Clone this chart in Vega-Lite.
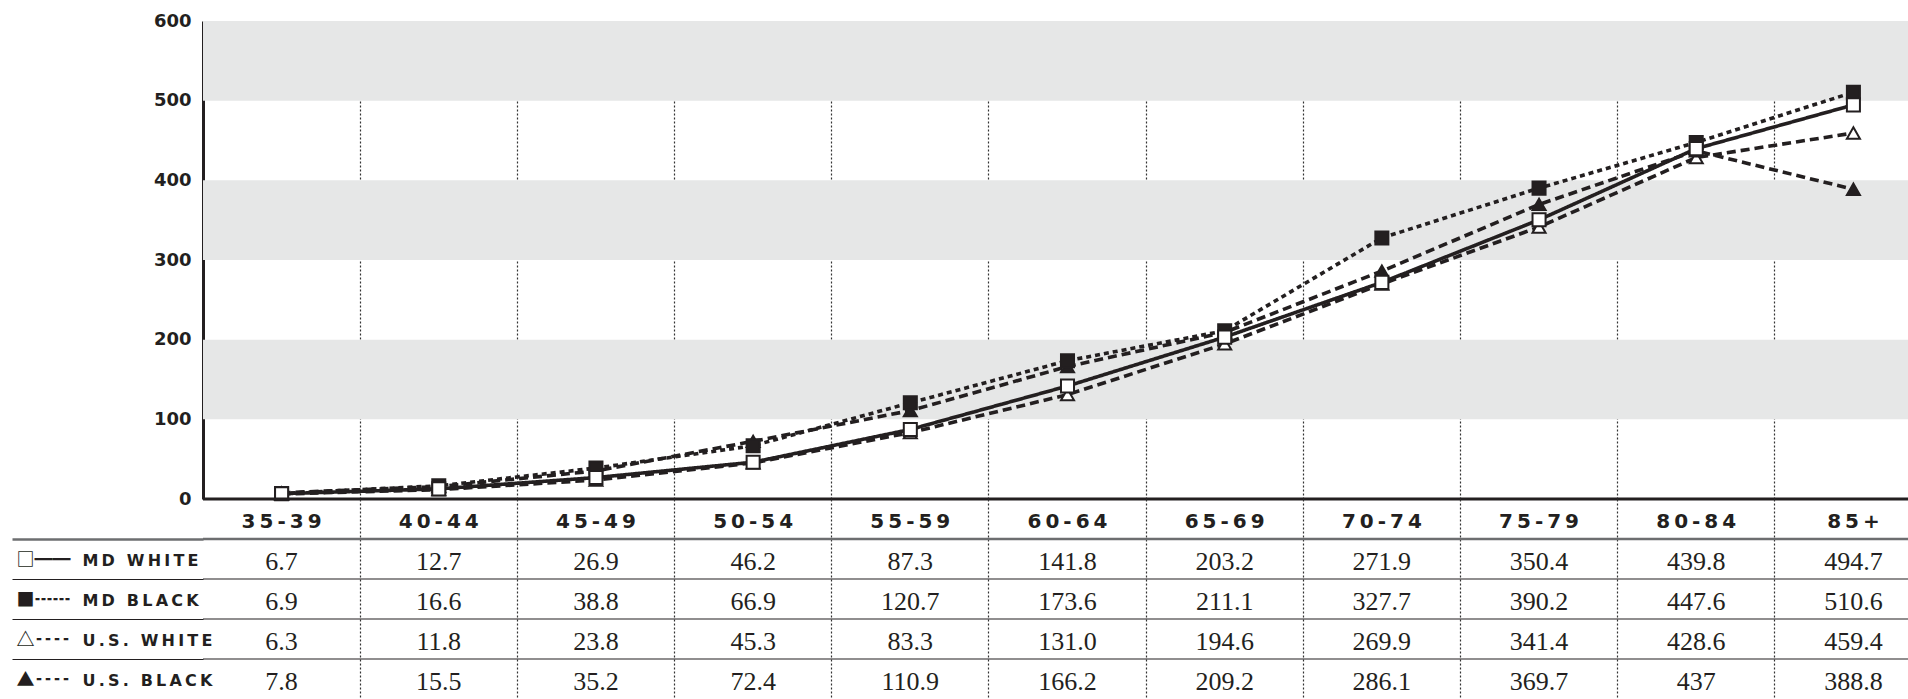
{
  "$schema": "https://vega.github.io/schema/vega-lite/v6.json",
  "background": "white",
  "padding": {"left": 10, "top": 12, "right": 0, "bottom": 0},
  "spacing": 0,
  "bounds": "flush",
  "datasets": {
    "rates": [
      {"age": "35-39", "series": "U.S. WHITE", "value": 6.3, "txt": "6.3"},
      {"age": "40-44", "series": "U.S. WHITE", "value": 11.8, "txt": "11.8"},
      {"age": "45-49", "series": "U.S. WHITE", "value": 23.8, "txt": "23.8"},
      {"age": "50-54", "series": "U.S. WHITE", "value": 45.3, "txt": "45.3"},
      {"age": "55-59", "series": "U.S. WHITE", "value": 83.3, "txt": "83.3"},
      {"age": "60-64", "series": "U.S. WHITE", "value": 131.0, "txt": "131.0"},
      {"age": "65-69", "series": "U.S. WHITE", "value": 194.6, "txt": "194.6"},
      {"age": "70-74", "series": "U.S. WHITE", "value": 269.9, "txt": "269.9"},
      {"age": "75-79", "series": "U.S. WHITE", "value": 341.4, "txt": "341.4"},
      {"age": "80-84", "series": "U.S. WHITE", "value": 428.6, "txt": "428.6"},
      {"age": "85+", "series": "U.S. WHITE", "value": 459.4, "txt": "459.4"},
      {"age": "35-39", "series": "U.S. BLACK", "value": 7.8, "txt": "7.8"},
      {"age": "40-44", "series": "U.S. BLACK", "value": 15.5, "txt": "15.5"},
      {"age": "45-49", "series": "U.S. BLACK", "value": 35.2, "txt": "35.2"},
      {"age": "50-54", "series": "U.S. BLACK", "value": 72.4, "txt": "72.4"},
      {"age": "55-59", "series": "U.S. BLACK", "value": 110.9, "txt": "110.9"},
      {"age": "60-64", "series": "U.S. BLACK", "value": 166.2, "txt": "166.2"},
      {"age": "65-69", "series": "U.S. BLACK", "value": 209.2, "txt": "209.2"},
      {"age": "70-74", "series": "U.S. BLACK", "value": 286.1, "txt": "286.1"},
      {"age": "75-79", "series": "U.S. BLACK", "value": 369.7, "txt": "369.7"},
      {"age": "80-84", "series": "U.S. BLACK", "value": 437, "txt": "437"},
      {"age": "85+", "series": "U.S. BLACK", "value": 388.8, "txt": "388.8"},
      {"age": "35-39", "series": "MD BLACK", "value": 6.9, "txt": "6.9"},
      {"age": "40-44", "series": "MD BLACK", "value": 16.6, "txt": "16.6"},
      {"age": "45-49", "series": "MD BLACK", "value": 38.8, "txt": "38.8"},
      {"age": "50-54", "series": "MD BLACK", "value": 66.9, "txt": "66.9"},
      {"age": "55-59", "series": "MD BLACK", "value": 120.7, "txt": "120.7"},
      {"age": "60-64", "series": "MD BLACK", "value": 173.6, "txt": "173.6"},
      {"age": "65-69", "series": "MD BLACK", "value": 211.1, "txt": "211.1"},
      {"age": "70-74", "series": "MD BLACK", "value": 327.7, "txt": "327.7"},
      {"age": "75-79", "series": "MD BLACK", "value": 390.2, "txt": "390.2"},
      {"age": "80-84", "series": "MD BLACK", "value": 447.6, "txt": "447.6"},
      {"age": "85+", "series": "MD BLACK", "value": 510.6, "txt": "510.6"},
      {"age": "35-39", "series": "MD WHITE", "value": 6.7, "txt": "6.7"},
      {"age": "40-44", "series": "MD WHITE", "value": 12.7, "txt": "12.7"},
      {"age": "45-49", "series": "MD WHITE", "value": 26.9, "txt": "26.9"},
      {"age": "50-54", "series": "MD WHITE", "value": 46.2, "txt": "46.2"},
      {"age": "55-59", "series": "MD WHITE", "value": 87.3, "txt": "87.3"},
      {"age": "60-64", "series": "MD WHITE", "value": 141.8, "txt": "141.8"},
      {"age": "65-69", "series": "MD WHITE", "value": 203.2, "txt": "203.2"},
      {"age": "70-74", "series": "MD WHITE", "value": 271.9, "txt": "271.9"},
      {"age": "75-79", "series": "MD WHITE", "value": 350.4, "txt": "350.4"},
      {"age": "80-84", "series": "MD WHITE", "value": 439.8, "txt": "439.8"},
      {"age": "85+", "series": "MD WHITE", "value": 494.7, "txt": "494.7"}
    ],
    "bands": [{"lo": 100, "hi": 200}, {"lo": 300, "hi": 400}, {"lo": 500, "hi": 600}],
    "zero": [{"v": 0}],
    "rows": [{"series": "MD WHITE"}, {"series": "MD BLACK"}, {"series": "U.S. WHITE"}, {"series": "U.S. BLACK"}]
  },
  "vconcat": [
    {
      "width": 1707,
      "height": 478,
      "layer": [
        {
          "data": {"name": "bands"},
          "mark": {"type": "rect", "color": "#e6e7e7"},
          "encoding": {
            "y": {"field": "lo", "type": "quantitative", "scale": {"domain": [0, 600], "nice": false}, "axis": {"title": null}},
            "y2": {"field": "hi"}
          }
        },
        {
          "data": {"name": "rates"},
          "mark": {"type": "line", "strokeWidth": 3.6, "color": "#231f20"},
          "encoding": {
            "x": {
              "field": "age", "type": "ordinal", "bandPosition": 0.5,
              "scale": {"type": "band", "domain": ["35-39", "40-44", "45-49", "50-54", "55-59", "60-64", "65-69", "70-74", "75-79", "80-84", "85+"], "range": [0, 1729], "paddingInner": 0, "paddingOuter": 0},
              "axis": {"title": null, "orient": "bottom", "domain": false, "labels": false, "ticks": false, "bandPosition": 0, "grid": true, "gridDash": [2, 2], "gridWidth": 1.2,
                "gridColor": {"condition": {"test": "datum.value === '35-39'", "value": "transparent"}, "value": "#333333"}}
            },
            "y": {"field": "value", "type": "quantitative", "scale": {"domain": [0, 600], "nice": false}, "axis": {"title": null}},
            "strokeDash": {"field": "series", "type": "nominal", "legend": null,
              "scale": {"domain": ["MD WHITE", "MD BLACK", "U.S. WHITE", "U.S. BLACK"], "range": [[1, 0], [5, 4], [9, 5], [9, 5]]}},
            "detail": {"field": "series"}
          }
        },
        {
          "data": {"name": "rates"},
          "mark": {"type": "point", "filled": true, "size": 170, "stroke": "#231f20", "strokeWidth": 2, "opacity": 1},
          "encoding": {
            "x": {
              "field": "age", "type": "ordinal", "bandPosition": 0.5,
              "scale": {"type": "band", "domain": ["35-39", "40-44", "45-49", "50-54", "55-59", "60-64", "65-69", "70-74", "75-79", "80-84", "85+"], "range": [0, 1729], "paddingInner": 0, "paddingOuter": 0},
              "axis": {"title": null, "orient": "bottom", "domain": false, "labels": false, "ticks": false, "bandPosition": 0, "grid": true, "gridDash": [2, 2], "gridWidth": 1.2,
                "gridColor": {"condition": {"test": "datum.value === '35-39'", "value": "transparent"}, "value": "#333333"}}
            },
            "y": {"field": "value", "type": "quantitative", "scale": {"domain": [0, 600], "nice": false}, "axis": {"title": null}},
            "shape": {"field": "series", "type": "nominal", "legend": null,
              "scale": {"domain": ["MD WHITE", "MD BLACK", "U.S. WHITE", "U.S. BLACK"], "range": ["square", "square", "triangle-up", "triangle-up"]}},
            "fill": {"field": "series", "type": "nominal", "legend": null,
              "scale": {"domain": ["MD WHITE", "MD BLACK", "U.S. WHITE", "U.S. BLACK"], "range": ["#ffffff", "#231f20", "#ffffff", "#231f20"]}}
          }
        },
        {
          "data": {"name": "zero"},
          "mark": {"type": "rule", "color": "#231f20", "strokeWidth": 3},
          "encoding": {
            "y": {"field": "v", "type": "quantitative", "scale": {"domain": [0, 600], "nice": false}, "axis": {"title": null}}
          }
        }
      ]
    },
    {
      "width": 1707,
      "height": 200,
      "resolve": {"scale": {"y": "independent"}, "axis": {"y": "independent"}},
      "layer": [
        {
          "data": {"name": "rows"},
          "mark": {"type": "rule"},
          "encoding": {
            "y": {
              "field": "series", "type": "nominal", "bandPosition": 0,
              "scale": {"type": "band", "domain": ["HDR", "MD WHITE", "MD BLACK", "U.S. WHITE", "U.S. BLACK"], "paddingInner": 0, "paddingOuter": 0},
              "axis": {"title": null, "orient": "left", "domain": false, "bandPosition": 0, "grid": false,
                "ticks": false, "tickSize": 0,
                "labelAlign": "left", "labelPadding": 187, "labelOffset": 2, "labelFont": "Noto Sans CJK JP", "labelFontWeight": "bold", "labelFontSize": 18, "labelColor": "#231f20",
                "labelExpr": "datum.value === 'HDR' ? '' : datum.value === 'MD WHITE' ? '□━━' : datum.value === 'MD BLACK' ? '■┅┅' : datum.value === 'U.S. WHITE' ? '△╍╍' : '▲╍╍'"}
            },
            "stroke": {"condition": {"test": "datum.series === 'MD WHITE'", "value": "#6d6e70"}, "value": "#231f20"},
            "strokeWidth": {"condition": {"test": "datum.series === 'MD WHITE'", "value": 2.5}, "value": 1.2}
          }
        },
        {
          "data": {"name": "rates"},
          "mark": {"type": "text", "font": "Liberation Serif", "fontSize": 26, "color": "#231f20", "dy": 3},
          "encoding": {
            "x": {
              "field": "age", "type": "ordinal", "bandPosition": 0.5,
              "scale": {"type": "band", "domain": ["35-39", "40-44", "45-49", "50-54", "55-59", "60-64", "65-69", "70-74", "75-79", "80-84", "85+"], "range": [0, 1729], "paddingInner": 0, "paddingOuter": 0},
              "axis": {"title": null, "orient": "top", "domain": false, "ticks": false, "labels": false, "grid": true, "bandPosition": 0,
                "gridDash": [2, 2], "gridWidth": 1.2,
                "gridColor": {"condition": {"test": "datum.value === '35-39'", "value": "transparent"}, "value": "#333333"}}
            },
            "y": {
              "field": "series", "type": "nominal", "bandPosition": 0.5,
              "scale": {"type": "band", "domain": ["HDR", "MD WHITE", "MD BLACK", "U.S. WHITE", "U.S. BLACK"], "paddingInner": 0, "paddingOuter": 0},
              "axis": {"title": null, "orient": "left", "domain": false, "bandPosition": 0, "grid": false,
                "ticks": true, "tickSize": 191,
                "tickColor": {"condition": [{"test": "datum.value === 'HDR'", "value": "transparent"}, {"test": "datum.value === 'MD WHITE'", "value": "#6d6e70"}], "value": "#231f20"},
                "tickWidth": {"condition": {"test": "datum.value === 'MD WHITE'", "value": 2.5}, "value": 1.2},
                "labelAlign": "left", "labelPadding": -70, "labelOffset": 2, "labelFont": "DejaVu Sans", "labelFontWeight": "bold", "labelFontSize": 16, "labelColor": "#231f20",
                "labelExpr": "datum.value === 'HDR' ? '' : replace(datum.value, regexp('(.)(?=.)', 'g'), '$1\u2009')"}
            },
            "text": {"field": "txt", "type": "nominal"}
          }
        },
        {
          "data": {"name": "rates"},
          "transform": [{"filter": "datum.series === 'MD WHITE'"}],
          "mark": {"type": "text", "font": "DejaVu Sans", "fontWeight": "bold", "fontSize": 20, "color": "#231f20", "dy": 3,
            "text": {"expr": "replace(datum.age, regexp('(.)(?=.)', 'g'), '$1\u2009')"}},
          "encoding": {
            "x": {
              "field": "age", "type": "ordinal", "bandPosition": 0.5,
              "scale": {"type": "band", "domain": ["35-39", "40-44", "45-49", "50-54", "55-59", "60-64", "65-69", "70-74", "75-79", "80-84", "85+"], "range": [0, 1729], "paddingInner": 0, "paddingOuter": 0},
              "axis": {"title": null, "orient": "top", "domain": false, "ticks": false, "labels": false, "grid": true, "bandPosition": 0,
                "gridDash": [2, 2], "gridWidth": 1.2,
                "gridColor": {"condition": {"test": "datum.value === '35-39'", "value": "transparent"}, "value": "#333333"}}
            },
            "y": {
              "datum": "HDR", "type": "nominal", "bandPosition": 0.5,
              "scale": {"type": "band", "domain": ["HDR", "MD WHITE", "MD BLACK", "U.S. WHITE", "U.S. BLACK"], "paddingInner": 0, "paddingOuter": 0},
              "axis": null
            }
          }
        }
      ]
    }
  ],
  "config": {
    "view": {"stroke": null},
    "axisQuantitative": {"ticks": false, "grid": false, "domain": true, "domainColor": "#231f20", "domainWidth": 3, "tickCount": 6,
      "labelPadding": 12, "labelFont": "DejaVu Sans", "labelFontWeight": "bold", "labelFontSize": 18, "labelColor": "#231f20"}
  }
}
